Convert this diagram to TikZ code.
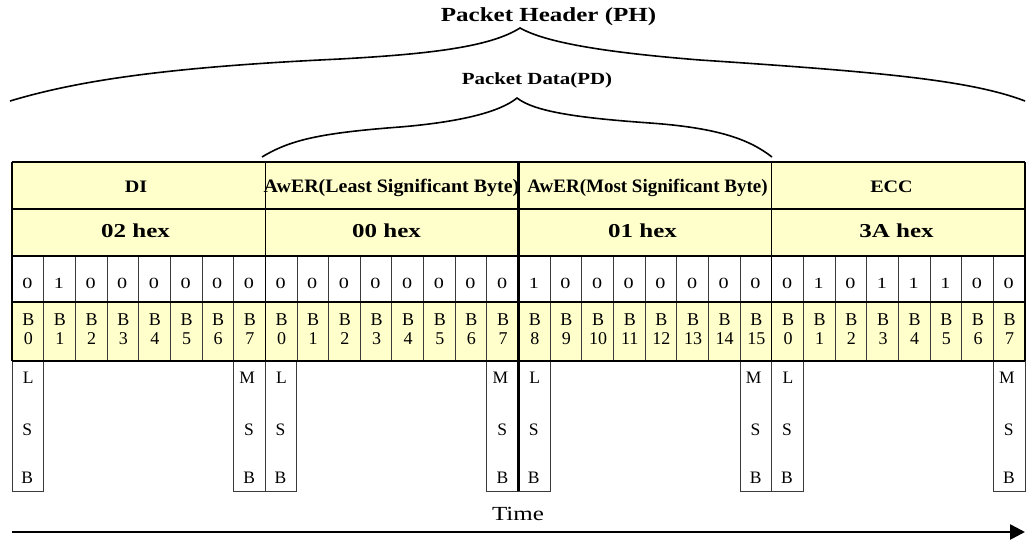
\documentclass[tikz,border=0pt]{standalone}
\usepackage{fontspec}
\setmainfont{Liberation Serif}
\usepackage{graphicx}
\usetikzlibrary{arrows.meta}
\definecolor{cellyellow}{HTML}{FFFFCC}
\definecolor{gridgray}{HTML}{3A3A3A}
\newcommand{\hsc}[2]{\scalebox{#1}[1]{#2}}
\begin{document}
\begin{tikzpicture}[x=1pt,y=-1pt,
  txt/.style={inner sep=0pt, anchor=base},
  ttl/.style={txt, font=\fontsize{20}{20}\selectfont\bfseries},
  subttl/.style={txt, font=\fontsize{17}{17}\selectfont\bfseries},
  lab/.style={txt, font=\fontsize{19}{19}\selectfont\bfseries},
  labs/.style={txt, font=\fontsize{17.5}{17.5}\selectfont\bfseries},
  hexlab/.style={txt, font=\fontsize{19.7}{19.7}\selectfont\bfseries},
  bitdig/.style={txt, font=\fontsize{15.5}{15.5}\selectfont},
  bname/.style={txt, font=\fontsize{18}{18}\selectfont},
  sblet/.style={txt, font=\fontsize{17.5}{17.5}\selectfont},
  timelab/.style={txt, font=\fontsize{20}{20}\selectfont},
  thin/.style={draw=gridgray, line width=0.8pt},
  heavy/.style={draw=black, line width=1.3pt},
  heavier/.style={draw=black, line width=2.2pt},
  sbbox/.style={draw=gridgray, line width=0.9pt},
  brace/.style={draw=black, line width=1.6pt, line join=miter},
  timearrow/.style={draw=black, line width=2.6pt, -{Triangle[length=15pt,width=15pt]}}]
\useasboundingbox (0,0) rectangle (1027,539);

% yellow rows
\fill[cellyellow] (12,162) rectangle (1025,256);
\fill[cellyellow] (12,302) rectangle (1025,361);

% bit dividers (thin)
\foreach \k in {0,...,3} {
  \foreach \j in {1,...,7} {
    \draw[thin] ({12+253.25*\k+31.656*\j},256) -- ({12+253.25*\k+31.656*\j},361);
  }
}

% LSB / MSB boxes
\foreach \k in {0,...,3} {
  \draw[sbbox] ({12+253.25*\k},361) rectangle ({12+253.25*\k+31.656},491);
  \draw[sbbox] ({12+253.25*\k+31.656*7},361) rectangle ({12+253.25*\k+253.25},491);
}

% horizontal lines
\foreach \yy in {162,209,256,302,361} {
  \draw[heavy] (12,\yy) -- (1025,\yy);
}
% vertical byte boundaries
\foreach \xx in {12,265.25,771.75,1025} {
  \draw[heavy] (\xx,162) -- (\xx,361);
}
\draw[heavier] (518.5,162) -- (518.5,491);

% header row labels
\node[labs] (diL) at (136,192.5) {\hsc{1.15}{DI}};
\node[lab] (lsbL) at (391.5,192.5) {\hsc{1.05}{AwER(Least Significant Byte)}};
\node[lab] (msbL) at (647.5,192.5) {AwER(Most Significant Byte)};
\node[labs] (eccL) at (891.5,192.5) {\hsc{1.15}{ECC}};

% hex row
\node[hexlab] (diH) at (135.5,237.3) {\hsc{1.27}{02 hex}};
\node[hexlab] (lsbH) at (386.5,237.3) {\hsc{1.27}{00 hex}};
\node[hexlab] (msbH) at (642.5,237.3) {\hsc{1.27}{01 hex}};
\node[hexlab] (eccH) at (896.5,237.3) {\hsc{1.27}{3A hex}};

% bit values
\foreach \k/\bits in {0/{0,1,0,0,0,0,0,0},1/{0,0,0,0,0,0,0,0},2/{1,0,0,0,0,0,0,0},3/{0,1,0,1,1,1,0,0}} {
  \foreach \v [count=\j from 0] in \bits {
    \node[bitdig] (v\k-\j) at ({12+253.25*\k+31.656*\j+15.3},288) {\hsc{1.3}{\v}};
  }
}

% bit names
\foreach \k/\off in {0/0,1/0,2/8,3/0} {
  \foreach \j in {0,...,7} {
    \pgfmathtruncatemacro\n{\j+\off}
    \node[bname] (bB\k-\j) at ({12+253.25*\k+31.656*\j+16.3},325.7) {B};
    \node[bname] (bN\k-\j) at ({12+253.25*\k+31.656*\j+16.3},344.3) {\n};
  }
}

% LSB / MSB letters
\foreach \k in {0,...,3} {
  \node[sblet] (l1\k) at ({12+253.25*\k+16.3},383.3) {L};
  \node[sblet] (l2\k) at ({12+253.25*\k+15.3},435.7) {S};
  \node[sblet] (l3\k) at ({12+253.25*\k+15.3},483.3) {B};
  \node[sblet] (m1\k) at ({12+253.25*\k+31.656*7+13.5},383.3) {M};
  \node[sblet] (m2\k) at ({12+253.25*\k+31.656*7+15.5},435.7) {S};
  \node[sblet] (m3\k) at ({12+253.25*\k+31.656*7+15.5},483.3) {B};
}

% braces
\draw[brace] (10,101) .. controls (80,80) and (170,67) .. (340,59)
  .. controls (430,54) and (490,47) .. (520,28)
  .. controls (545,42) and (600,52) .. (700,60)
  .. controls (880,72) and (970,80) .. (1025,101);
\draw[brace] (262,157) .. controls (290,140) and (320,133) .. (400,127)
  .. controls (460,122) and (500,112) .. (517,98)
  .. controls (535,112) and (580,118) .. (650,123)
  .. controls (720,128) and (750,140) .. (772,157);

% titles
\node[ttl] (ph) at (548.5,21) {\hsc{1.25}{Packet Header (PH)}};
\node[subttl] (pd) at (537,84) {\hsc{1.23}{Packet Data(PD)}};

% time arrow
\coordinate (tStart) at (12,532);
\coordinate (tEnd) at (1025,532);
\draw[timearrow] (tStart) -- (tEnd);
\node[timelab] (time) at (518,520) {\hsc{1.25}{Time}};
\end{tikzpicture}
\end{document}
